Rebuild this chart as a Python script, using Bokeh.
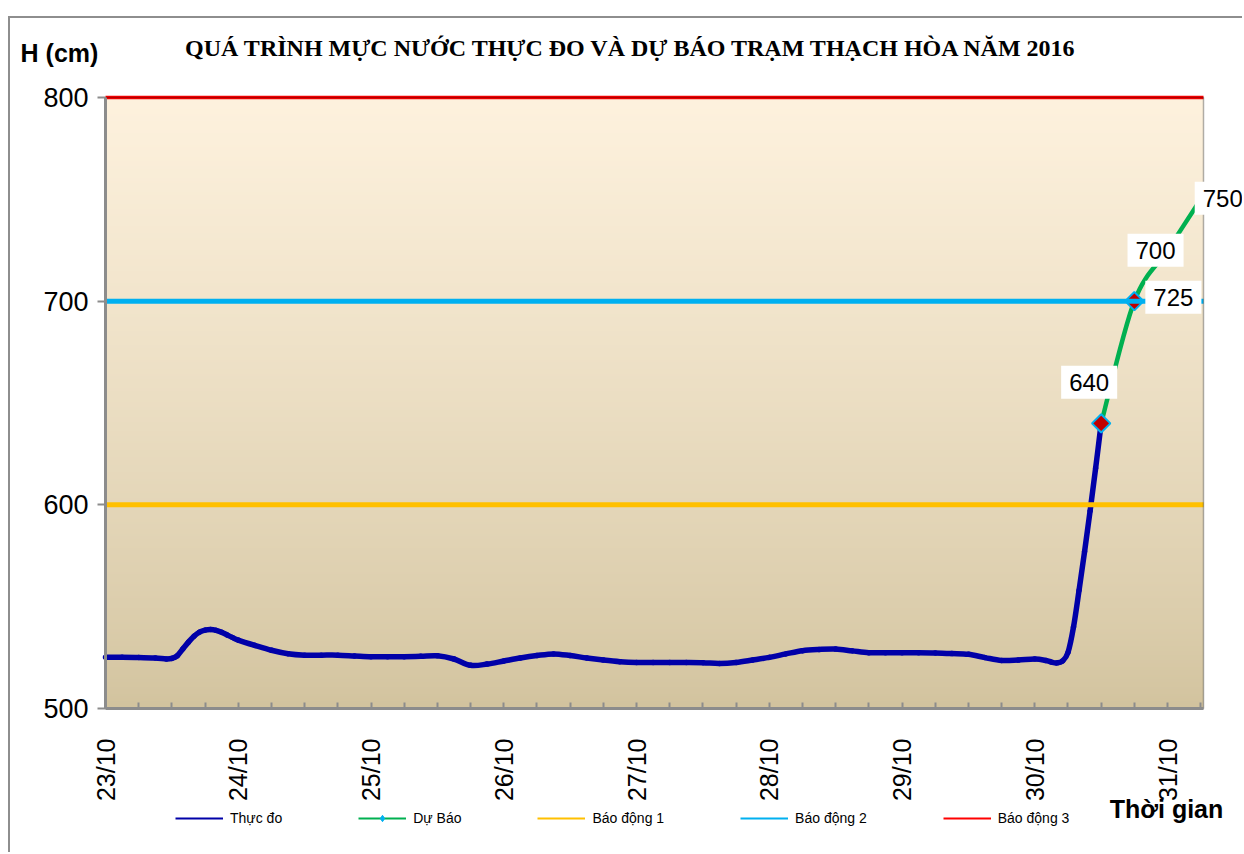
import numpy as np
from math import pi
from bokeh.plotting import figure
from bokeh.models import Range1d, FixedTicker, Legend, LegendItem, Label, BoxAnnotation
from bokeh.embed import file_html
from bokeh.resources import INLINE

# ---------------- data ----------------
title_text = "QUÁ TRÌNH MỰC NƯỚC THỰC ĐO VÀ DỰ BÁO TRẠM THẠCH HÒA NĂM 2016"
y_title = "H (cm)"
x_title = "Thời gian"

date_labels = ["23/10", "24/10", "25/10", "26/10", "27/10", "28/10", "29/10", "30/10", "31/10"]
date_hours = [0, 24, 48, 72, 96, 120, 144, 168, 192]
minor_hours = [6, 12, 18, 30, 36, 42, 54, 60, 66, 78, 84, 90, 102, 108, 114, 126, 132, 138,
               150, 156, 162, 174, 180, 186, 198]
y_ticks = [500, 600, 700, 800]

# observed water level (hours since 23/10 00h)
obs_hours = [0, 3, 6, 9, 11, 12, 13, 14, 15, 16, 17, 18, 19, 20, 21, 22, 23, 24, 27, 30, 33,
             36, 39, 42, 45, 48, 51, 54, 57, 60, 63, 66, 69, 72, 75, 78, 81, 84, 87, 90, 93,
             96, 99, 102, 105, 108, 111, 114, 117, 120, 123, 126, 129, 132, 135, 138, 141,
             144, 147, 150, 153, 156, 159, 162, 165, 168, 170, 171, 172, 173, 174, 175, 176,
             177, 178, 179, 180]
obs_values = [525.2, 525.2, 525.1, 524.8, 524.3, 524.6, 526.0, 529.3, 532.6, 535.5, 537.5,
              538.5, 538.8, 538.4, 537.4, 536.1, 534.8, 533.6, 531.0, 528.6, 526.9,
              526.2, 526.2, 526.2, 525.8, 525.4, 525.4, 525.4, 525.6, 525.9, 524.3, 521.2,
              521.8, 523.3, 524.8, 526.0, 526.8, 526.0, 524.8, 523.8, 523.0,
              522.6, 522.6, 522.6, 522.6, 522.5, 522.1, 522.6, 523.8, 525.1, 526.8, 528.4,
              529.0, 529.2, 528.3, 527.4, 527.4,
              527.4, 527.4, 527.3, 527.0, 526.6, 525.0, 523.6, 523.8, 524.3, 523.6, 522.8,
              522.4, 523.3, 527.5, 540.0, 558.0,
              577.0, 597.0, 618.0, 640.0]

# forecast
fc_hours = [180, 186, 192, 198]
fc_values = [640, 700, 725, 750]
hl_hours = [180, 186]
hl_values = [640, 700]
label_texts = ["640", "725", "700", "750"]   # texts printed beside the forecast points

alarm_levels = [600, 700, 800]
alarm_names = ["Báo động 1", "Báo động 2", "Báo động 3"]

# ---------------- style / layout ----------------
X_END = 198.5
Y0, Y1 = 500, 800
PL, PT, PR, PB = 105, 97, 1203, 708          # plot area in page pixels
CX0, CY0 = 10, 18                            # canvas origin in page pixels
CW, CH = 1232, 834                           # canvas size
SX = (PR - PL) / X_END                       # px per hour
SY = (PB - PT) / (Y1 - Y0)                   # px per cm

def dx(px):
    return (px - PL) / SX

def dy(py):
    return Y1 - (py - PT) / SY

def smooth_segments(xs, ys):
    """Catmull-Rom style control points for drawing the series as a smoothed line."""
    x = np.asarray(xs, dtype=float)
    y = np.asarray(ys, dtype=float)
    xp = np.concatenate([[x[0]], x, [x[-1]]])
    yp = np.concatenate([[y[0]], y, [y[-1]]])
    x0, y0, x1, y1 = x[:-1], y[:-1], x[1:], y[1:]
    cx0 = x0 + (xp[2:-1] - xp[:-3]) / 6.0
    cy0 = y0 + (yp[2:-1] - yp[:-3]) / 6.0
    cx1 = x1 - (xp[3:] - xp[1:-2]) / 6.0
    cy1 = y1 - (yp[3:] - yp[1:-2]) / 6.0
    return dict(x0=x0, y0=y0, x1=x1, y1=y1, cx0=cx0, cy0=cy0, cx1=cx1, cy1=cy1)

x_range = Range1d(dx(CX0), dx(CX0 + CW))
y_range = Range1d(dy(CY0 + CH), dy(CY0))

C_OBS = "#0000A8"
C_FC = "#00B050"
C_ALARM = ["#FFC000", "#00B0F0", "#FF0000"]
AX_GREY = "#8C8C8C"
NAN2 = [float("nan"), float("nan")]

p = figure(frame_width=CW, frame_height=CH, x_range=x_range, y_range=y_range,
           output_backend="svg", toolbar_location=None,
           min_border=0, min_border_left=0, min_border_right=0,
           min_border_top=0, min_border_bottom=0,
           margin=(CY0 - 2, 0, 0, CX0 - 2),
           styles={"border-top": "2px solid #8E8E8E", "border-left": "2px solid #8E8E8E"})

p.xgrid.visible = False
p.ygrid.visible = False
p.background_fill_color = "white"
p.border_fill_color = "white"
p.outline_line_color = None

# gradient background of the plot area
n = 256
t = np.linspace(0, 1, n)[:, None]            # 0 bottom -> 1 top
top = np.array([254, 242, 222], dtype=float)
bot = np.array([210, 195, 158], dtype=float)
rgb = bot + (top - bot) * (t ** 0.8)
img = np.empty((n, 1), dtype=np.uint32)
view = img.view(dtype=np.uint8).reshape((n, 1, 4))
view[:, :, 0] = rgb[:, 0:1].astype(np.uint8)
view[:, :, 1] = rgb[:, 1:2].astype(np.uint8)
view[:, :, 2] = rgb[:, 2:3].astype(np.uint8)
view[:, :, 3] = 255
p.image_rgba(image=[img], x=0, y=Y0, dw=X_END, dh=Y1 - Y0)

# plot-area border
p.add_layout(BoxAnnotation(left=0, right=X_END, bottom=Y0, top=Y1, fill_alpha=0,
                           line_color="black", line_width=1.5, level="glyph"))

# series (smoothed lines like the original spreadsheet chart)
p.bezier(line_color=C_OBS, line_width=5.5, line_cap="round",
         **smooth_segments(obs_hours, obs_values))
p.bezier(line_color=C_FC, line_width=4.5, line_cap="round",
         **smooth_segments(fc_hours, fc_values))
p.scatter(fc_hours, fc_values, marker="square", angle=pi / 4, size=5,
          fill_color="#00B0F0", line_color="#00B0F0")
p.scatter(hl_hours, hl_values, marker="square", angle=pi / 4, size=13, fill_color="#C00000",
          line_color="#00B0F0", line_width=2)

for lvl, col, lw in zip(alarm_levels, C_ALARM, [5, 5, 3.5]):
    p.line([0, X_END], [lvl, lvl], line_color=col, line_width=lw)

# legend proxies (thin lines, nothing drawn in the plot)
leg_items = []
r = p.line(NAN2, NAN2, line_color=C_OBS, line_width=2)
leg_items.append(LegendItem(label="Thực đo", renderers=[r]))
r1 = p.line(NAN2, NAN2, line_color=C_FC, line_width=2)
r2 = p.scatter(NAN2, NAN2, marker="diamond", size=9, fill_color="#00B0F0", line_color="#00B0F0")
leg_items.append(LegendItem(label="Dự Báo", renderers=[r1, r2]))
for name, col in zip(alarm_names, C_ALARM):
    r = p.line(NAN2, NAN2, line_color=col, line_width=2)
    leg_items.append(LegendItem(label=name, renderers=[r]))

legend = Legend(items=leg_items, orientation="horizontal",
                location=(175 - CX0, (CY0 + CH) - 826),
                glyph_width=48, glyph_height=16, label_height=16, label_standoff=7,
                spacing=76, padding=8, margin=0, border_line_color=None,
                background_fill_alpha=0, label_text_font="Liberation Sans",
                label_text_font_size="14px", label_text_color="black")
p.add_layout(legend, "center")

# axes
xa = p.xaxis[0]
xa.fixed_location = Y0
xa.bounds = (0, X_END)
xa.ticker = FixedTicker(ticks=date_hours, minor_ticks=minor_hours)
xa.major_label_overrides = {h: s for h, s in zip(date_hours, date_labels)}
xa.major_label_orientation = pi / 2
xa.major_label_standoff = 30
xa.major_label_text_font = "Liberation Sans"
xa.major_label_text_font_size = "25px"
xa.major_label_text_color = "black"
xa.axis_line_color = AX_GREY
xa.axis_line_width = 3
xa.major_tick_in = 6
xa.major_tick_out = 0
xa.minor_tick_in = 6
xa.minor_tick_out = 0
xa.major_tick_line_color = AX_GREY
xa.minor_tick_line_color = AX_GREY
xa.major_tick_line_width = 2
xa.minor_tick_line_width = 2

ya = p.yaxis[0]
ya.fixed_location = 0
ya.bounds = (Y0, Y1)
ya.ticker = FixedTicker(ticks=y_ticks, minor_ticks=[])
ya.major_label_standoff = 9
ya.major_label_text_font = "Liberation Sans"
ya.major_label_text_font_size = "27px"
ya.major_label_text_color = "black"
ya.axis_line_color = AX_GREY
ya.axis_line_width = 3
ya.major_tick_in = 0
ya.major_tick_out = 8
ya.major_tick_line_color = AX_GREY
ya.major_tick_line_width = 2
ya.minor_tick_line_color = None

# data labels
offsets = [(-12, 41), (39, 4), (-12, 0), (22, 1)]
for hx, vy, txt, (ox, oy) in zip(fc_hours, fc_values, label_texts, offsets):
    p.add_layout(Label(x=hx, y=vy, x_offset=ox, y_offset=oy, text=txt,
                       text_align="center", text_baseline="middle",
                       text_font="Liberation Sans", text_font_size="24px", text_color="black",
                       background_fill_color="white", padding=8))

# titles
p.add_layout(Label(x=dx(631), y=dy(47), text=title_text, text_align="center",
                   text_baseline="middle", text_font="Liberation Serif",
                   text_font_style="bold", text_font_size="24px", text_color="black"))
p.add_layout(Label(x=dx(59), y=dy(52), text=y_title, text_align="center",
                   text_baseline="middle", text_font="Liberation Sans",
                   text_font_style="bold", text_font_size="25px", text_color="black"))
p.add_layout(Label(x=dx(1166), y=dy(808), text=x_title, text_align="center",
                   text_baseline="middle", text_font="Liberation Sans",
                   text_font_style="bold", text_font_size="25px", text_color="black"))

open("out.html", "w").write(file_html(p, INLINE))
